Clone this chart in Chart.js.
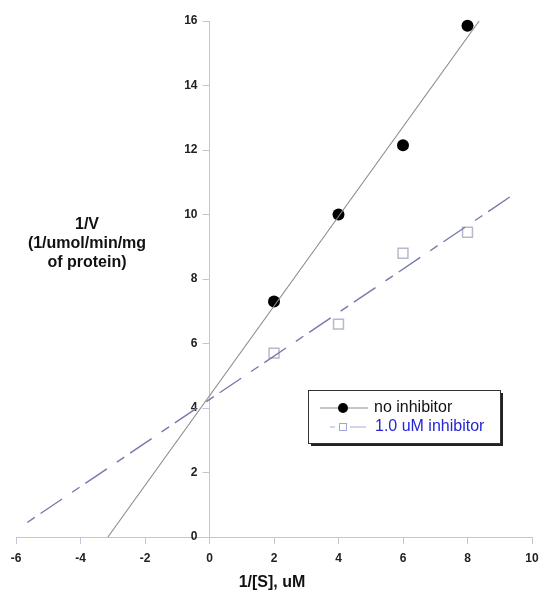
<!DOCTYPE html>
<html>
<head>
<meta charset="utf-8">
<script src="https://cdn.jsdelivr.net/npm/chart.js@4/dist/chart.umd.min.js"></script>
<style>
  html, body { margin: 0; padding: 0; background: #fff; }
  #wrap { width: 539px; height: 595px; }
</style>
</head>
<body>
<div id="wrap"><canvas id="lb" width="539" height="595"></canvas></div>
<script>
// ── Data ─────────────────────────────────────────────────────
const invS = [2, 4, 6, 8];                    // 1/[S], uM
const invVNone = [7.3, 10, 12.15, 15.85];     // no inhibitor
const invVInhib = [5.7, 6.6, 8.8, 9.45];      // 1.0 uM inhibitor

// fitted lines, end points
const fitNoneX = [-3.15, 8.36];
const fitNoneY = [0, 16];
const fitInhibX = [-5.65, 9.62];
const fitInhibY = [0.45, 10.75];

const xTicks = [-6, -4, -2, 0, 2, 4, 6, 8, 10];
const yTicks = [0, 2, 4, 6, 8, 10, 12, 14, 16];

const seriesNames = ['no inhibitor', '1.0 uM inhibitor'];
const yTitle = ['1/V', '(1/umol/min/mg', 'of protein)'];
const xTitle = '1/[S], uM';

const pts = (xs, ys) => xs.map((x, i) => ({ x, y: ys[i] }));

const AXIS = '#c4c4d8';
const TICK_FONT = { family: '"Liberation Sans", Arial, sans-serif', size: 12, weight: 'bold' };
const DASHDOT = [26, 12, 9, 7];

// ── Move the y axis onto x = 0 (it takes no layout width) ───
const yAtZero = {
  id: 'yAtZero',
  afterLayout(chart) {
    const y = chart.scales.y;
    const px = chart.scales.x.getPixelForValue(0);
    y.right = px;
    y.left = px - 40;
    y.width = 40;
  }
};

// ── Titles + boxed legend ────────────────────────────────────
const extras = {
  id: 'extras',
  afterDraw(chart) {
    const { ctx } = chart;
    ctx.save();

    // axis titles
    ctx.font = 'bold 16px "Liberation Sans", Arial, sans-serif';
    ctx.fillStyle = '#111';
    ctx.textAlign = 'center';
    ctx.textBaseline = 'middle';
    yTitle.forEach((t, i) => ctx.fillText(t, 87, 225 + i * 19));
    ctx.fillText(xTitle, 272, 583);

    // legend box with drop shadow
    const bx = 308, by = 390, bw = 192, bh = 53;
    ctx.fillStyle = '#222';
    ctx.fillRect(bx + 3, by + 3, bw, bh);
    ctx.fillStyle = '#fff';
    ctx.fillRect(bx, by, bw, bh);
    ctx.strokeStyle = '#333';
    ctx.lineWidth = 1;
    ctx.strokeRect(bx + 0.5, by + 0.5, bw, bh);

    // row 1: solid line + dot
    const r1 = by + 18, r2 = by + 37;
    ctx.strokeStyle = '#8c8c8c';
    ctx.beginPath();
    ctx.moveTo(bx + 12, r1); ctx.lineTo(bx + 60, r1);
    ctx.stroke();
    ctx.fillStyle = '#000';
    ctx.beginPath();
    ctx.arc(bx + 35, r1, 5, 0, Math.PI * 2);
    ctx.fill();

    // row 2: dash-dot line + open square
    ctx.strokeStyle = '#a8a8e4';
    ctx.beginPath();
    ctx.moveTo(bx + 22, r2); ctx.lineTo(bx + 27, r2);
    ctx.moveTo(bx + 42, r2); ctx.lineTo(bx + 58, r2);
    ctx.stroke();
    ctx.strokeStyle = '#a4a4dc';
    ctx.strokeRect(bx + 31.5, r2 - 3.5, 7, 7);

    ctx.font = '16px "Liberation Sans", Arial, sans-serif';
    ctx.textAlign = 'left';
    ctx.fillStyle = '#111';
    ctx.fillText(seriesNames[0], bx + 66, r1);
    ctx.fillStyle = '#2626d2';
    ctx.fillText(seriesNames[1], bx + 67, r2);

    ctx.restore();
  }
};

// ── Chart ────────────────────────────────────────────────────
new Chart(document.getElementById('lb'), {
  type: 'scatter',
  data: {
    datasets: [
      {
        type: 'line',
        data: pts(fitNoneX, fitNoneY),
        borderColor: '#8a8a8a',
        borderWidth: 1.1,
        pointRadius: 0,
        fill: false,
        clip: false
      },
      {
        type: 'line',
        data: pts(fitInhibX, fitInhibY),
        borderColor: '#7878ac',
        borderWidth: 1.4,
        borderDash: DASHDOT,
        borderDashOffset: 38,
        pointRadius: 0,
        fill: false,
        clip: false
      },
      {
        label: seriesNames[0],
        data: pts(invS, invVNone),
        pointStyle: 'circle',
        pointRadius: 6,
        backgroundColor: '#000',
        borderColor: '#000',
        borderWidth: 0,
        clip: false
      },
      {
        label: seriesNames[1],
        data: pts(invS, invVInhib),
        pointStyle: 'rect',
        pointRadius: 7,
        backgroundColor: 'rgba(0,0,0,0)',
        borderColor: '#b8b8cc',
        borderWidth: 1.5,
        clip: false
      }
    ]
  },
  options: {
    responsive: false,
    animation: false,
    events: [],
    layout: {
      autoPadding: false,
      padding: { left: 16, right: 7, top: 21, bottom: 58 }
    },
    plugins: {
      legend: { display: false },
      tooltip: { enabled: false }
    },
    scales: {
      x: {
        type: 'linear',
        min: -6,
        max: 10,
        position: { y: 0 },
        afterFit: s => { s.height = 0; s.paddingLeft = 0; s.paddingRight = 0; },
        afterBuildTicks: s => { s.ticks = xTicks.map(v => ({ value: v })); },
        grid: { drawOnChartArea: false, color: AXIS, tickLength: 6 },
        border: { color: AXIS, width: 1 },
        ticks: { font: TICK_FONT, color: '#222', padding: 8, maxRotation: 0 }
      },
      y: {
        type: 'linear',
        min: 0,
        max: 16,
        position: 'left',
        afterFit: s => { s.width = 0; s.paddingTop = 0; s.paddingBottom = 0; },
        afterBuildTicks: s => { s.ticks = yTicks.map(v => ({ value: v })); },
        grid: { drawOnChartArea: false, color: AXIS, tickLength: 7 },
        border: { color: AXIS, width: 1 },
        ticks: { font: TICK_FONT, color: '#222', padding: 5 }
      }
    }
  },
  plugins: [yAtZero, extras]
});
</script>
</body>
</html>
